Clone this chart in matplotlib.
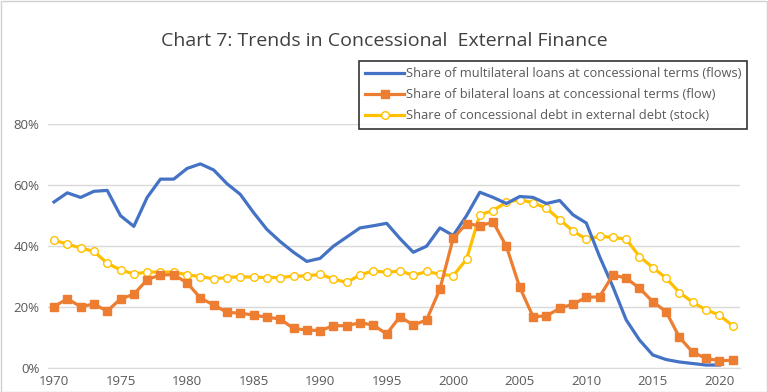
import matplotlib.pyplot as plt
from matplotlib.patches import Rectangle
from matplotlib.ticker import PercentFormatter

plt.rcParams['font.family'] = ['Open Sans', 'DejaVu Sans']

years = list(range(1970, 2022))

# share of multilateral loans at concessional terms (flows), % - ends 2020
multilateral = [54.5, 57.5, 56, 58, 58.3, 50, 46.5, 56, 62, 62,
                65.5, 67, 65, 60.5, 57, 51, 45.5, 41.5, 38, 35,
                36, 40, 43, 46, 46.7, 47.5, 42.5, 38, 40, 46,
                43.5, 50, 57.7, 56, 54, 56.3, 56, 54, 55, 50.3,
                47.6, 36.6, 26.7, 15.8, 9.2, 4.3, 2.8, 2.0, 1.5, 1.0,
                1.0]

# share of bilateral loans at concessional terms (flow), %
bilateral = [20.2, 22.7, 20.2, 21, 18.7, 22.7, 24.2, 29, 30.6, 30.6,
             28, 23, 20.7, 18.3, 18, 17.4, 16.7, 16.1, 13, 12.5,
             12.3, 13.9, 13.9, 14.9, 14.1, 11.2, 16.9, 14.1, 15.8, 25.9,
             42.6, 47.4, 46.7, 47.9, 39.9, 26.5, 16.9, 17.1, 19.6, 21,
             23.2, 23.4, 30.6, 29.5, 26.2, 21.8, 18.5, 10.1, 5.2, 3.2,
             2.4, 2.6]

# share of concessional debt in external debt (stock), %
stock = [41.9, 40.7, 39.4, 38.3, 34.4, 32.2, 30.9, 31.5, 31.5, 31.5,
         30.6, 30, 29.3, 29.7, 30, 29.8, 29.7, 29.7, 30.2, 30.2,
         30.8, 29.2, 28.1, 30.6, 31.9, 31.4, 31.9, 30.4, 31.7, 30.8,
         30.3, 35.7, 50.3, 51.7, 54.4, 55.3, 54.2, 52.5, 48.7, 45,
         42.3, 43.2, 42.9, 42.3, 36.6, 33, 29.5, 24.8, 21.6, 19.1,
         17.4, 13.9]

labels = ['Share of multilateral loans at concessional terms (flows)',
          'Share of bilateral loans at concessional terms (flow)',
          'Share of concessional debt in external debt (stock)']

fig = plt.figure(figsize=(7.68, 3.92), dpi=100)
ax = fig.add_axes([0.0625, 0.061, 0.901, 0.622])

ax.plot(years[:len(multilateral)], multilateral, color='#4472C4', lw=2.3,
        label=labels[0], zorder=3)
ax.plot(years, bilateral, color='#ED7D31', lw=2.3, marker='s', ms=5.5,
        label=labels[1], zorder=4)
ax.plot(years, stock, color='#FFC000', lw=2.3, marker='o', ms=5.5,
        markerfacecolor='white', markeredgewidth=1.0, label=labels[2], zorder=2)

ax.set_xlim(1969.55, 2021.55)
ax.set_ylim(0, 80)
ax.set_yticks([0, 20, 40, 60, 80])
ax.yaxis.set_major_formatter(PercentFormatter(decimals=0))
ax.set_xticks(range(1970, 2021, 5))
ax.grid(True, axis='y', color='#D9D9D9', lw=1)
ax.set_axisbelow(True)
for s in ['top', 'right', 'left']:
    ax.spines[s].set_visible(False)
ax.spines['bottom'].set_color('#D9D9D9')
ax.tick_params(axis='both', length=0, labelsize=9.5, colors='#595959')
ax.tick_params(axis='x', pad=5)
ax.tick_params(axis='y', pad=6)

fig.text(0.5, 0.895, 'Chart 7: Trends in Concessional  External Finance',
         ha='center', va='center', fontsize=14, color='#404040')

leg = fig.legend(loc='upper left', bbox_to_anchor=(359 / 768, 1 - 61 / 392),
                 fontsize=9.3, frameon=True, fancybox=False, handlelength=3.0,
                 handletextpad=0.1, borderpad=0.5, labelspacing=0.62,
                 borderaxespad=0)
leg.get_frame().set_edgecolor('black')
leg.get_frame().set_linewidth(1.2)
for t in leg.get_texts():
    t.set_color('#595959')

# chart border
fig.patches.append(Rectangle((0.001, 0.001), 0.998, 0.997, transform=fig.transFigure,
                             fill=False, edgecolor='#D0D0D0', lw=1))

fig.savefig('out.png', dpi=100)
